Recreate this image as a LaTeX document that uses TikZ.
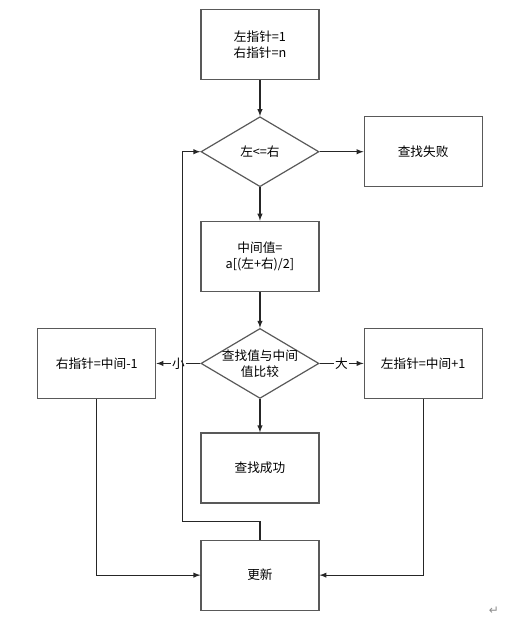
\documentclass[tikz,border=0pt]{standalone}
\usepackage{fontspec}
\setmainfont{Noto Sans CJK SC}
\newfontfamily\symfont{DejaVu Sans}
\usepackage{tikz}
\usetikzlibrary{shapes.geometric, arrows, positioning}
\tikzstyle{process} = [rectangle, minimum width=88.5pt, minimum height=52.5pt, text centered, align=center, draw=black!65, line width=0.9pt]
\tikzstyle{decision} = [diamond, minimum width=88.5pt, minimum height=52.5pt, shape aspect=1.69, inner sep=-3pt, text centered, align=center, draw=black!65, line width=0.9pt]
\tikzstyle{arrow} = [line width=0.8pt, draw=black!85, ->, >=latex]
\tikzstyle{edgelabel} = [fill=white, inner sep=1pt]

\begin{document}
\begin{tikzpicture}[node distance=27pt and 33pt, font=\fontsize{9.5}{12}\selectfont]

% Start
\node (init) [process] {左指针=1\\右指针=n};

% Loop test
\node (cond) [decision, below=of init] {左<=右};
\node (fail) [process, right=of cond] {查找失败};

% Middle value
\node (mid) [process, below=25pt of cond] {中间值=\\a[(左+右)/2]};

% Compare
\node (cmp) [decision, below=of mid] {查找值与中间\\值比较};
\node (lft) [process, left=of cmp] {右指针=中间-1};
\node (rgt) [process, right=of cmp] {左指针=中间+1};
\node (found) [process, below=25pt of cmp] {查找成功};

% Update
\node (upd) [process, below=of found] {更新};

% Arrows
\draw [arrow] (init) -- (cond);
\draw [arrow] (cond) -- (fail);
\draw [arrow] (cond) -- (mid);
\draw [arrow] (mid) -- (cmp);
\draw [arrow] (cmp) -- node [edgelabel] {小} (lft);
\draw [arrow] (cmp) -- node [edgelabel] {大} (rgt);
\draw [arrow] (cmp) -- (found);
\draw [arrow] (lft.south) |- (upd.west);
\draw [arrow] (rgt.south) |- (upd.east);
\draw [arrow] (upd.north) -- ++(0,13.5pt) -| ([xshift=-13.5pt]cond.west) -- (cond.west);

% Paragraph mark
\node (mark) [text=black!45, font=\symfont\fontsize{9}{10}\selectfont] at (175.5pt,-424.5pt) {↵};

\useasboundingbox (-195pt,33.4pt) rectangle (194.25pt,-430.9pt);

\end{tikzpicture}
\end{document}
